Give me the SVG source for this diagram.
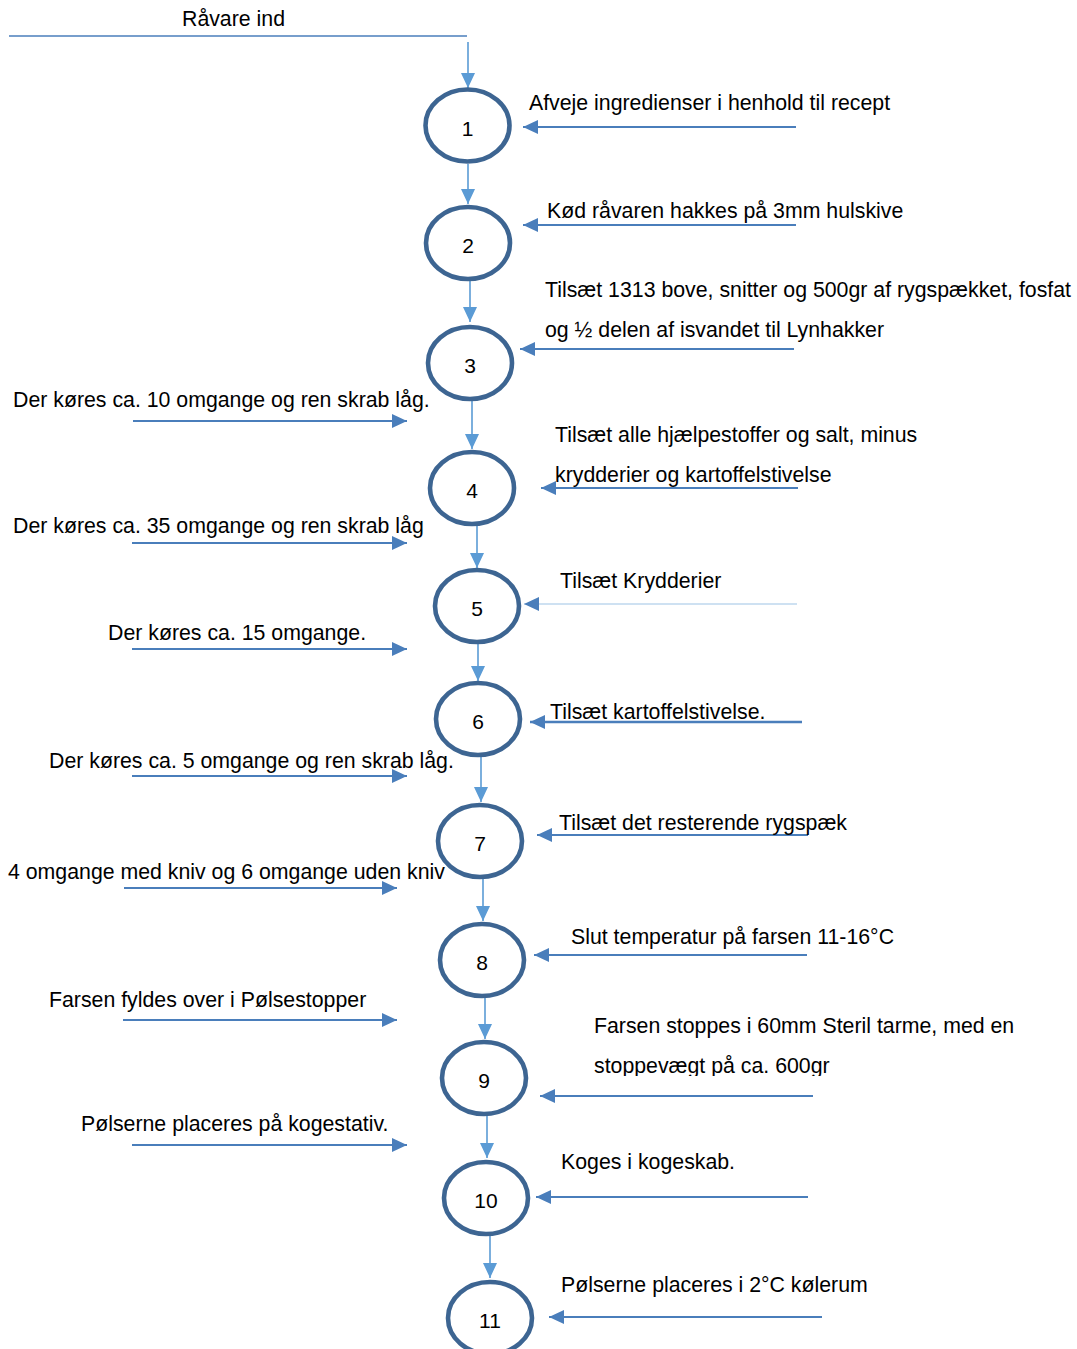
<svg xmlns="http://www.w3.org/2000/svg" width="1077" height="1349" viewBox="0 0 1077 1349">
<style>
.node ellipse{fill:#fff;stroke:#3d6592;stroke-width:4.6}
.node text{font-family:"Liberation Sans",Arial,sans-serif;font-size:21px;fill:#000;text-anchor:middle}
.lbl{font-family:"Liberation Sans",Arial,sans-serif;font-size:21.3px;fill:#000}
.v{stroke:#5b9bd5;stroke-width:1.6;fill:none;marker-end:url(#av)}
.h{stroke:#4a7ebb;stroke-width:2;fill:none;marker-end:url(#ah)}
</style>
<defs>
<marker id="av" markerUnits="userSpaceOnUse" markerWidth="16" markerHeight="16" refX="15" refY="7" orient="auto"><path d="M0,0 L15,7 L0,14 z" fill="#5b9bd5"/></marker>
<marker id="ah" markerUnits="userSpaceOnUse" markerWidth="16" markerHeight="16" refX="15" refY="7" orient="auto"><path d="M0,0 L15,7 L0,14 z" fill="#4a7ebb"/></marker>
<clipPath id="clip9"><rect x="580" y="1040" width="300" height="36"/></clipPath>
</defs>
<g id="connectors">
<line x1="9" y1="36" x2="467" y2="36" stroke="#4a7ebb" stroke-width="1.6"/>
<line class="v" x1="468" y1="42" x2="468" y2="88"/>
<line class="v" x1="468" y1="164" x2="468" y2="204"/>
<line class="v" x1="470" y1="281" x2="470" y2="322"/>
<line class="v" x1="472" y1="401" x2="472" y2="449"/>
<line class="v" x1="477" y1="525" x2="477" y2="568"/>
<line class="v" x1="478" y1="643" x2="478" y2="681"/>
<line class="v" x1="481" y1="757" x2="481" y2="802"/>
<line class="v" x1="483" y1="878" x2="483" y2="921"/>
<line class="v" x1="485" y1="997" x2="485" y2="1039"/>
<line class="v" x1="487" y1="1115" x2="487" y2="1158"/>
<line class="v" x1="490" y1="1235" x2="490" y2="1278"/>
<line class="h" x1="796" y1="127" x2="523" y2="127"/>
<line class="h" x1="796" y1="225" x2="523" y2="225"/>
<line class="h" x1="794" y1="349" x2="520" y2="349"/>
<line class="h" x1="798" y1="488" x2="541" y2="488"/>
<line class="h" x1="797" y1="604" x2="524" y2="604" style="stroke:#9dc3e6;stroke-width:1.2"/>
<line class="h" x1="802" y1="722" x2="530" y2="722" style="stroke-width:2.6"/>
<line class="h" x1="808" y1="835" x2="537" y2="835"/>
<line class="h" x1="807" y1="955" x2="534" y2="955"/>
<line class="h" x1="813" y1="1096" x2="540" y2="1096"/>
<line class="h" x1="808" y1="1197" x2="536" y2="1197"/>
<line class="h" x1="822" y1="1317" x2="549" y2="1317"/>
<line class="h" x1="133" y1="421" x2="407" y2="421"/>
<line class="h" x1="132" y1="543" x2="407" y2="543"/>
<line class="h" x1="132" y1="649" x2="407" y2="649"/>
<line class="h" x1="132" y1="776" x2="407" y2="776"/>
<line class="h" x1="124" y1="888" x2="397" y2="888"/>
<line class="h" x1="123" y1="1020" x2="397" y2="1020"/>
<line class="h" x1="132" y1="1145" x2="407" y2="1145"/>
</g>
<g id="node1" class="node"><ellipse cx="467.5" cy="125.5" rx="42" ry="36"/><text x="467.5" y="135.5">1</text></g>
<g id="node2" class="node"><ellipse cx="468" cy="243" rx="42" ry="36"/><text x="468" y="252.5">2</text></g>
<g id="node3" class="node"><ellipse cx="470" cy="363" rx="42" ry="36"/><text x="470" y="372.5">3</text></g>
<g id="node4" class="node"><ellipse cx="472" cy="488" rx="42" ry="36"/><text x="472" y="497.5">4</text></g>
<g id="node5" class="node"><ellipse cx="477" cy="606" rx="42" ry="36"/><text x="477" y="615.5">5</text></g>
<g id="node6" class="node"><ellipse cx="478" cy="719" rx="42" ry="36"/><text x="478" y="728.5">6</text></g>
<g id="node7" class="node"><ellipse cx="480" cy="841" rx="42" ry="36"/><text x="480" y="850.5">7</text></g>
<g id="node8" class="node"><ellipse cx="482" cy="960" rx="42" ry="36"/><text x="482" y="969.5">8</text></g>
<g id="node9" class="node"><ellipse cx="484" cy="1078" rx="42" ry="36"/><text x="484" y="1087.5">9</text></g>
<g id="node10" class="node"><ellipse cx="486" cy="1198" rx="42" ry="36"/><text x="486" y="1207.5">10</text></g>
<g id="node11" class="node"><ellipse cx="490" cy="1318" rx="42" ry="36"/><text x="490" y="1327.5">11</text></g>
<g id="labels">
<text class="lbl" x="182" y="26">Råvare ind</text>
<text class="lbl" x="529" y="110">Afveje ingredienser i henhold til recept</text>
<text class="lbl" x="547" y="218">Kød råvaren hakkes på 3mm hulskive</text>
<text class="lbl" x="545" y="297">Tilsæt 1313 bove, snitter og 500gr af rygspækket, fosfat</text>
<text class="lbl" x="545" y="337">og ½ delen af isvandet til Lynhakker</text>
<text class="lbl" x="13" y="407">Der køres ca. 10 omgange og ren skrab låg.</text>
<text class="lbl" x="555" y="442">Tilsæt alle hjælpestoffer og salt, minus</text>
<text class="lbl" x="555" y="482">krydderier og kartoffelstivelse</text>
<text class="lbl" x="13" y="533">Der køres ca. 35 omgange og ren skrab låg</text>
<text class="lbl" x="560" y="588">Tilsæt Krydderier</text>
<text class="lbl" x="108" y="640">Der køres ca. 15 omgange.</text>
<text class="lbl" x="550" y="719">Tilsæt kartoffelstivelse.</text>
<text class="lbl" x="49" y="768">Der køres ca. 5 omgange og ren skrab låg.</text>
<text class="lbl" x="559" y="830">Tilsæt det resterende rygspæk</text>
<text class="lbl" x="8" y="879">4 omgange med kniv og 6 omgange uden kniv</text>
<text class="lbl" x="571" y="944">Slut temperatur på farsen 11-16°C</text>
<text class="lbl" x="49" y="1007">Farsen fyldes over i Pølsestopper</text>
<text class="lbl" x="594" y="1033">Farsen stoppes i 60mm Steril tarme, med en</text>
<text class="lbl" x="594" y="1073" clip-path="url(#clip9)">stoppevægt på ca. 600gr</text>
<text class="lbl" x="81" y="1131">Pølserne placeres på kogestativ.</text>
<text class="lbl" x="561" y="1169">Koges i kogeskab.</text>
<text class="lbl" x="561" y="1292">Pølserne placeres i 2°C kølerum</text>
</g>
</svg>
